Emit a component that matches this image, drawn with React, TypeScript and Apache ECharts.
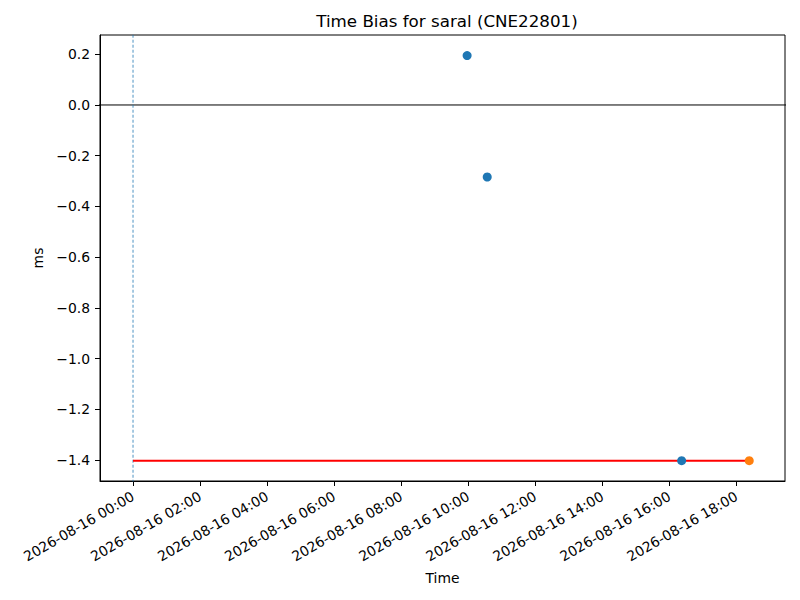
import { useEffect, useRef } from 'react'
import * as echarts from 'echarts'

// 时间点（当天）和偏差值 ms
const blueTimes = ['09:58', '10:34', '16:22']
const blueValues = [0.195, -0.284, -1.403]
const orangeTimes = ['18:23']
const orangeValues = [-1.403]
const refLineTimes = ['00:00', '18:23']
const refLineValue = -1.403
const vLineTime = '00:00'
const day = '2026-08-16'
const xTicks = [0, 2, 4, 6, 8, 10, 12, 14, 16, 18]
const yTicks = [-1.4, -1.2, -1.0, -0.8, -0.6, -0.4, -0.2, 0.0, 0.2]

// 'HH:MM' -> 小时数
const toHours = (t: string) => {
    const [h, m] = t.split(':').map(Number)
    return h + m / 60
}

const pad = (n: number) => String(n).padStart(2, '0')

export default function App() {
    const chartRef = useRef<HTMLDivElement>(null)

    useEffect(() => {
        if (!chartRef.current) return
        const chart = echarts.init(chartRef.current, undefined, { renderer: 'svg' })

        const font = 'DejaVu Sans'
        const labelStyle = { color: '#000', fontFamily: font, fontSize: 13.9 }

        chart.setOption({
            animation: false,
            title: {
                text: 'Time Bias for saral (CNE22801)',
                left: 442,
                top: 7,
                textAlign: 'center',
                textStyle: { color: '#000', fontFamily: font, fontSize: 16.7, fontWeight: 'normal' }
            },
            grid: {
                left: 100, right: 15, top: 35, bottom: 119,
                show: true, borderColor: '#000', borderWidth: 1, backgroundColor: 'transparent'
            },
            xAxis: {
                type: 'value',
                min: -0.985,
                max: 19.45,
                name: 'Time',
                nameLocation: 'middle',
                nameGap: 90,
                nameTextStyle: labelStyle,
                axisLine: { show: true, onZero: false, lineStyle: { color: '#000', width: 1 } },
                axisTick: { show: true, customValues: xTicks, length: 5, lineStyle: { color: '#000' } },
                axisLabel: {
                    ...labelStyle,
                    customValues: xTicks,
                    rotate: 30,
                    margin: 14,
                    formatter: (v: number) => `${day} ${pad(Math.round(v))}:00`
                },
                splitLine: { show: false }
            },
            yAxis: {
                type: 'value',
                min: -1.483,
                max: 0.276,
                name: 'ms',
                nameLocation: 'middle',
                nameGap: 54,
                nameRotate: 90,
                nameTextStyle: labelStyle,
                axisLine: { show: true, onZero: false, lineStyle: { color: '#000', width: 1 } },
                axisTick: { show: true, customValues: yTicks, length: 5, lineStyle: { color: '#000' } },
                axisLabel: {
                    ...labelStyle,
                    customValues: yTicks,
                    margin: 10,
                    formatter: (v: number) => v.toFixed(1).replace('-', '\u2212')
                },
                splitLine: { show: false }
            },
            series: [
                {
                    type: 'line',
                    data: [[-5, 0], [25, 0]],
                    symbol: 'none',
                    lineStyle: { color: '#000', width: 1 },
                    silent: true,
                    z: 1
                },
                {
                    type: 'line',
                    data: [[toHours(vLineTime), -5], [toHours(vLineTime), 5]],
                    symbol: 'none',
                    lineStyle: { color: '#1f77b4', width: 0.8, type: [3, 2] },
                    silent: true,
                    z: 1
                },
                {
                    type: 'line',
                    data: refLineTimes.map(t => [toHours(t), refLineValue]),
                    symbol: 'none',
                    lineStyle: { color: '#ff0000', width: 2 },
                    z: 2
                },
                {
                    type: 'scatter',
                    data: blueTimes.map((t, i) => [toHours(t), blueValues[i]]),
                    symbolSize: 9,
                    itemStyle: { color: '#1f77b4', opacity: 1 },
                    z: 3
                },
                {
                    type: 'scatter',
                    data: orangeTimes.map((t, i) => [toHours(t), orangeValues[i]]),
                    symbolSize: 9,
                    itemStyle: { color: '#ff7f0e', opacity: 1 },
                    z: 3
                }
            ]
        })

        return () => chart.dispose()
    }, [])

    return (
        <div
            ref={chartRef}
            style={{ position: 'fixed', left: 0, top: 0, width: 800, height: 600, background: '#fff' }}
        />
    )
}
